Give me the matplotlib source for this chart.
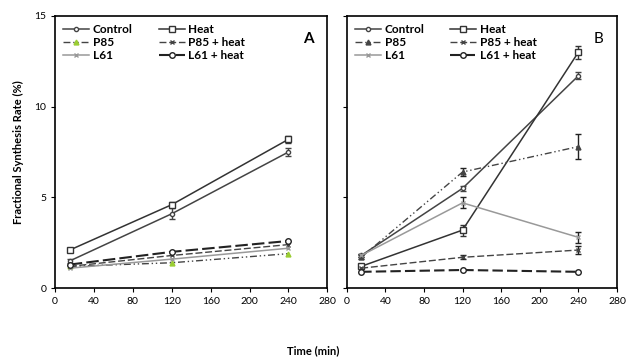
import matplotlib
matplotlib.use("Agg")
import matplotlib.pyplot as plt

plt.rcParams['font.family'] = ['Lato', 'DejaVu Sans']

times = [15, 120, 240]

# panel A
a_control = [1.5, 4.1, 7.5]
a_heat = [2.1, 4.6, 8.2]
a_p85 = [1.2, 1.4, 1.9]
a_p85heat = [1.2, 1.8, 2.4]
a_l61 = [1.1, 1.6, 2.2]
a_l61heat = [1.3, 2.0, 2.6]
a_err_control = [0.1, 0.3, 0.2]
a_err_heat = [0.1, 0.15, 0.2]

# panel B
b_control = [1.8, 5.5, 11.7]
b_heat = [1.2, 3.2, 13.0]
b_p85 = [1.7, 6.4, 7.8]
b_p85heat = [1.1, 1.7, 2.1]
b_l61 = [1.8, 4.7, 2.8]
b_l61heat = [0.9, 1.0, 0.9]
b_err_control = [0.1, 0.15, 0.2]
b_err_heat = [0.1, 0.3, 0.35]
b_err_p85 = [0.1, 0.2, 0.7]
b_err_l61 = [0.1, 0.3, 0.3]
b_err_p85heat = [0.05, 0.1, 0.2]

xticks = [0, 40, 80, 120, 160, 200, 240, 280]

fig = plt.figure(figsize=(6.27, 3.62), dpi=100)
axA = fig.add_axes([0.088, 0.204, 0.434, 0.752])
axB = fig.add_axes([0.553, 0.204, 0.431, 0.752])

def draw(ax, d, errs, p85col, l61h_ls):
    h = {}
    h['Control'] = ax.errorbar(times, d[0], yerr=errs.get('control'), color='#444444', lw=1.1,
                               marker='o', ms=3, mfc='white', mec='#444444', capsize=2, elinewidth=1)
    h['Heat'] = ax.errorbar(times, d[1], yerr=errs.get('heat'), color='#333333', lw=1.1,
                            marker='s', ms=4, mfc='white', mec='#333333', capsize=2, elinewidth=1)
    h['P85'] = ax.errorbar(times, d[2], yerr=errs.get('p85'), color='#444444', lw=1.0,
                           ls=(0, (5, 2, 1, 2, 1, 2)), marker='^', ms=3.5, mfc=p85col,
                           mec=p85col, capsize=2, elinewidth=1, ecolor='#222222')
    h['P85 + heat'] = ax.errorbar(times, d[3], yerr=errs.get('p85heat'), color='#444444', lw=1.0,
                                  ls=(0, (5, 2)), marker='x', ms=3.5, capsize=2, elinewidth=1,
                                  ecolor='#222222')
    h['L61'] = ax.errorbar(times, d[4], yerr=errs.get('l61'), color='#999999', lw=1.1,
                           marker='x', ms=3.5, capsize=2, elinewidth=1, ecolor='#222222')
    h['L61 + heat'] = ax.errorbar(times, d[5], color='#222222', lw=1.5, ls=l61h_ls,
                                  marker='o', ms=4, mfc='white', mec='#222222')
    order = ['Control', 'P85', 'L61', 'Heat', 'P85 + heat', 'L61 + heat']
    ax.legend([h[k][0] for k in order], order, ncol=2, loc='upper left', frameon=False,
              handlelength=2.2, handletextpad=0.3, columnspacing=2.2,
              labelspacing=0.15, borderaxespad=0.3, prop={'weight': 'bold', 'size': 8.5})
    ax.set_xlim(0, 280)
    ax.set_ylim(0, 15)
    ax.set_xticks(xticks)
    ax.tick_params(labelsize=7.5, length=3, direction='out')

draw(axA, [a_control, a_heat, a_p85, a_p85heat, a_l61, a_l61heat],
     {'control': a_err_control, 'heat': a_err_heat}, '#9acd32', (0, (6, 2)))
draw(axB, [b_control, b_heat, b_p85, b_p85heat, b_l61, b_l61heat],
     {'control': b_err_control, 'heat': b_err_heat, 'p85': b_err_p85,
      'l61': b_err_l61, 'p85heat': b_err_p85heat}, '#444444', (0, (5, 2)))

axA.set_yticks([0, 5, 10, 15])
axB.set_yticks([0, 5, 10, 15])
axB.set_yticklabels([])

axA.text(0.95, 0.9, 'A', transform=axA.transAxes, fontsize=11, fontweight='bold', ha='right')
axB.text(0.95, 0.9, 'B', transform=axB.transAxes, fontsize=11, ha='right')

for ax in (axA, axB):
    for s in ax.spines.values():
        s.set_linewidth(1.2)

fig.text(0.03, 0.58, 'Fractional Synthesis Rate (%)', rotation=90, ha='center', va='center',
         fontsize=8, fontweight='bold')
fig.text(0.5, 0.03, 'Time (min)', ha='center', va='center', fontsize=8, fontweight='bold')

fig.savefig('out.png', dpi=100)
